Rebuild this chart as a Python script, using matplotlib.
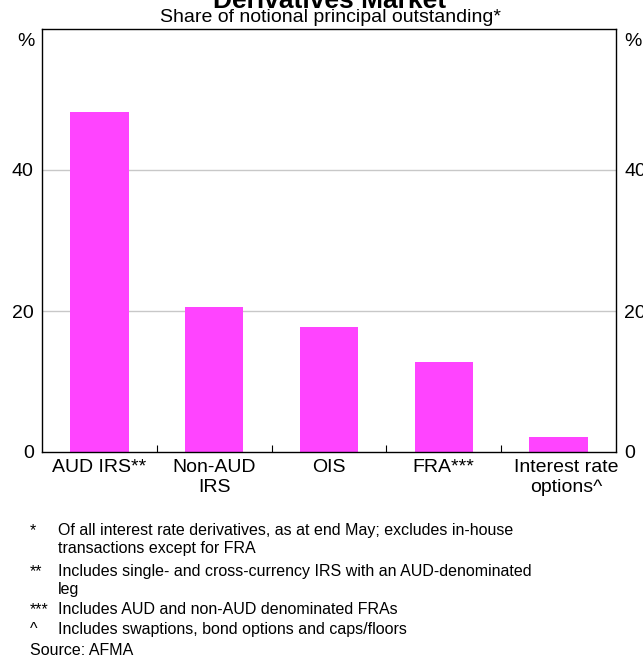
import matplotlib.pyplot as plt
import matplotlib.transforms as mtransforms

categories = ['AUD IRS**', 'Non-AUD\nIRS', 'OIS', 'FRA***', 'Interest rate\noptions^']
shares = [48.2, 20.6, 17.7, 12.8, 2.1]
yticks = [0, 20, 40]
notes = [
    ('*', ['Of all interest rate derivatives, as at end May; excludes in-house',
           'transactions except for FRA']),
    ('**', ['Includes single- and cross-currency IRS with an AUD-denominated', 'leg']),
    ('***', ['Includes AUD and non-AUD denominated FRAs']),
    ('^', ['Includes swaptions, bond options and caps/floors']),
]

plt.rcParams['font.family'] = ['Liberation Sans', 'DejaVu Sans']

fig = plt.figure(figsize=(6.43, 6.62), dpi=100)
W, H = 643, 662
left, right, top, bottom = 42, 616, 29, 452
ax = fig.add_axes([left / W, 1 - bottom / H, (right - left) / W, (bottom - top) / H])

x = range(len(categories))
ax.bar(x, shares, width=0.51, color='#ff44ff', zorder=2)
ax.set_xlim(-0.5, len(categories) - 0.5)
ax.set_ylim(0, 60)

ax.set_yticks(yticks)
ax.set_yticklabels([str(t) for t in yticks], fontsize=14)
ax.tick_params(axis='y', length=0, pad=6, labelright=True)
for t in yticks[1:]:
    ax.axhline(t, color='#c8c8c8', lw=1, zorder=1)

ax.set_xticks(list(x))
ax.set_xticklabels(categories, fontsize=14)
ax.tick_params(axis='x', length=0, pad=5)
ax.set_xticks([i + 0.5 for i in range(len(categories) - 1)], minor=True)
ax.tick_params(axis='x', which='minor', direction='in', length=5, width=0.8)
# last label sits a little to the right in the original
last = ax.get_xticklabels()[-1]
last.set_transform(last.get_transform() + mtransforms.ScaledTranslation(8 / 100, 0, fig.dpi_scale_trans))

for s in ax.spines.values():
    s.set_linewidth(1)

ax.text(-0.012, 0.99, '%', transform=ax.transAxes, ha='right', va='top', fontsize=14)
ax.text(1.014, 0.99, '%', transform=ax.transAxes, ha='left', va='top', fontsize=14)

fig.text(330 / W, 1 - 8 / H, 'Derivatives Market', ha='center', va='baseline',
         fontsize=19, fontweight='bold')
fig.text(330 / W, 1 - 22 / H, 'Share of notional principal outstanding*', ha='center',
         va='baseline', fontsize=14)

rows = [535, 553, 576, 594, 614, 634]
i = 0
for mark, lines in notes:
    fig.text(30 / W, 1 - rows[i] / H, mark, ha='left', va='baseline', fontsize=11.5)
    for line in lines:
        fig.text(58 / W, 1 - rows[i] / H, line, ha='left', va='baseline', fontsize=11.5)
        i += 1
fig.text(30 / W, 1 - 655 / H, 'Source: AFMA', ha='left', va='baseline', fontsize=11.5)

fig.savefig('out.png', dpi=100)
